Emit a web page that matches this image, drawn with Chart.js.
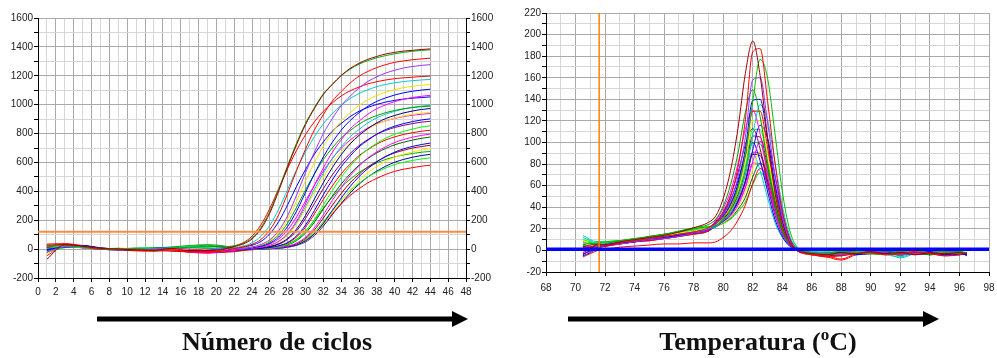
<!DOCTYPE html>
<html>
<head>
<meta charset="utf-8">
<script src="https://cdn.jsdelivr.net/npm/chart.js@4.4.1/dist/chart.umd.min.js"></script>
<style>
  html, body { margin: 0; padding: 0; background: #fff; }
  #wrap { position: relative; width: 997px; height: 358px; overflow: hidden; background: #fff; }
  #ampCanvas { position: absolute; left: 0; top: 0; }
  #meltCanvas { position: absolute; left: 497px; top: 0; }
  #captions { position: absolute; left: 0; top: 0; pointer-events: none; }
</style>
</head>
<body>
<div id="wrap">
  <canvas id="ampCanvas" width="497" height="300"></canvas>
  <canvas id="meltCanvas" width="500" height="300"></canvas>
  <svg id="captions" width="997" height="358" xmlns="http://www.w3.org/2000/svg">
    <line x1="97" y1="319" x2="454" y2="319" stroke="#000" stroke-width="5"/>
    <polygon points="452,311 468,319 452,327" fill="#000"/>
    <text x="277" y="350" text-anchor="middle" font-family="'Liberation Serif','Times New Roman',serif" font-weight="bold" font-size="26" fill="#111">Número de ciclos</text>
    <line x1="568" y1="319" x2="925" y2="319" stroke="#000" stroke-width="5"/>
    <polygon points="923,311 939,319 923,327" fill="#000"/>
    <text x="758" y="350" text-anchor="middle" font-family="'Liberation Serif','Times New Roman',serif" font-weight="bold" font-size="26" fill="#111">Temperatura (<tspan font-size="17" dy="-10">o</tspan><tspan dy="10">C)</tspan></text>
  </svg>
</div>
<script>
// ---------- Left panel: amplification curves ----------
const cycles = [1,3,5,7,9,11,13,15,17,19,20,21,22,23,24,25,26,27,28,29,30,31,32,33,34,35,36,37,38,39,40,41,42,43,44];
const ampThreshold = 120;
const ampXTicks = [0,2,4,6,8,10,12,14,16,18,20,22,24,26,28,30,32,34,36,38,40,42,44,46,48];
const ampYTicks = [-200,0,200,400,600,800,1000,1200,1400,1600];

const amp01 = [-70,30,20,5,0,-5,-8,5,-12,-10, -8,2,17,35,70,139,250,403,570,723,862,973,1070,1140,1202,1251,1286,1314,1334,1351,1362,1371,1376,1382,1386];
const amp02 = [20,25,15,2,-3,5,-10,8,12,20, 15,18,22,40,78,150,262,415,580,735,870,980,1075,1140,1200,1245,1280,1305,1325,1340,1352,1362,1370,1375,1380];
const amp03 = [10,35,20,3,-2,-6,-12,-5,-20,-15, -18,-10,3,16,33,67,133,239,386,545,692,825,931,1024,1091,1150,1197,1230,1257,1277,1293,1303,1311,1317,1322];
const amp04 = [-20,15,18,0,-5,2,-3,6,0,-8, -5,0,3,6,15,32,65,129,232,374,529,671,800,903,993,1058,1116,1161,1193,1219,1238,1254,1264,1272,1277];
const amp05 = [25,30,15,-2,3,-10,0,-6,-15,-20, -16,4,22,44,90,168,282,420,558,684,792,882,954,1012,1060,1096,1122,1144,1159,1171,1180,1186,1190,1195,1198];
const amp06 = [5,20,10,4,0,8,5,10,15,8, 5,6,10,21,44,89,165,277,413,549,673,779,867,938,995,1042,1077,1103,1125,1140,1152,1160,1166,1171,1175];
const amp07 = [15,22,12,0,5,-4,2,-8,5,-5, -10,-4,2,6,14,29,58,115,207,334,472,598,713,805,886,943,995,1035,1063,1087,1104,1118,1127,1134,1139];
const amp08 = [-10,20,25,8,0,-5,5,10,3,0, 5,8,3,4,10,20,41,84,157,263,392,521,638,739,823,890,944,989,1023,1047,1067,1082,1093,1101,1107];
const amp09 = [20,28,18,5,-3,0,-10,-5,-18,-25, -22,-15,-8,2,5,13,27,54,108,194,313,443,562,670,756,832,886,934,972,999,1021,1037,1050,1058,1065];
const amp10 = [30,18,10,2,5,0,8,15,25,30, 28,20,12,8,12,25,50,100,180,290,410,520,620,700,770,820,865,900,925,945,960,972,980,986,990];
const amp11 = [0,15,22,6,-2,-8,-3,-12,-8,-15, -12,-8,-5,1,3,8,18,37,74,139,233,347,460,564,653,728,787,835,874,904,925,943,956,967,973];
const amp12 = [-30,25,12,3,0,5,0,-5,-2,-10, -15,-10,-6,2,5,12,24,48,96,173,278,394,499,595,672,739,787,830,864,888,907,922,933,941,947];
const amp13 = [15,30,20,0,-6,3,-6,0,-10,-18, -20,-16,-10,-4,2,5,11,23,46,92,166,267,377,478,570,644,708,754,796,828,851,869,883,894,902];
const amp14 = [8,12,20,5,2,-2,4,8,0,-3, 0,2,4,1,3,8,17,33,68,126,212,315,419,513,594,662,716,759,795,822,842,857,869,879,885];
const amp15 = [-15,10,15,8,0,6,12,5,18,10, 5,0,2,-3,1,3,7,16,33,65,122,204,305,405,496,575,639,692,733,768,795,815,831,845,854];
const amp16 = [35,38,25,10,-5,-12,-15,-6,-22,-28, -25,-22,-18,-10,2,4,10,21,42,84,151,244,344,437,521,588,647,689,727,756,777,794,806,816,823];
const amp17 = [10,18,8,0,-2,-4,6,0,-10,-12, -10,-8,-5,-2,0,2,4,10,21,41,82,148,238,336,426,508,574,631,673,709,738,759,775,787,797];
const amp18 = [12,20,14,4,2,-6,-8,2,8,15, 20,18,8,2,1,3,7,14,29,59,111,186,277,367,450,521,581,628,666,697,722,740,755,767,776];
const amp19 = [-5,22,15,0,-4,0,-2,-8,-4,-6, -8,-5,-3,0,0,1,3,6,14,28,57,106,179,266,353,433,502,558,604,642,671,694,711,724,734];
const amp20 = [25,28,15,5,0,2,-2,4,-6,-3, -5,-2,0,2,0,1,4,9,19,37,74,133,215,303,385,459,518,570,607,640,666,684,700,710,719];
const amp21 = [18,15,10,6,4,8,2,12,4,6, 2,0,-3,-2,0,1,3,6,13,27,54,101,169,252,335,410,475,529,572,608,636,657,673,686,695];
const amp22 = [-25,12,18,3,0,-8,-4,10,15,28, 18,10,5,2,1,3,8,17,35,69,124,200,283,359,428,483,531,566,597,621,638,652,662,671,676];
const amp23 = [5,25,16,2,6,0,-5,3,-3,-12, -15,-10,-8,-5,0,1,3,8,16,33,65,117,189,267,338,403,455,501,533,562,585,601,614,624,632];
const amp24 = [-45,20,22,6,-3,-6,-10,-14,-20,-25, -22,-18,-14,-9,-5,1,3,7,15,30,60,107,173,245,311,371,418,459,490,517,538,553,564,574,581];
const amp25 = [10,28,12,5,0,4,0,6,2,-2, 0,2,0,2,5,12,25,51,101,182,293,414,525,626,707,778,828,874,909,934,954,970,982,990,996];
const amp26 = [22,32,20,4,2,-3,0,-4,-8,-12, -10,2,5,13,27,53,106,191,307,435,551,657,742,816,869,917,954,981,1002,1018,1030,1039,1045,1049,1054];
const amp27 = [0,16,24,8,3,6,8,2,10,5, 3,0,1,3,8,17,36,71,133,223,333,442,541,627,698,755,801,839,868,888,905,918,927,934,939];
const amp28 = [18,26,10,0,-4,-2,-6,-2,-12,-16, -14,-10,-7,-4,-2,1,3,6,13,26,50,95,160,238,316,388,449,500,540,574,601,621,636,648,656];

const ampSeries = [amp01,amp02,amp03,amp04,amp05,amp06,amp07,amp08,amp09,amp10,amp11,amp12,amp13,amp14,
                   amp15,amp16,amp17,amp18,amp19,amp20,amp21,amp22,amp23,amp24,amp25,amp26,amp27,amp28];
const ampColors = ['#a00000','#00b000','#ff0000','#9933ff','#ff0000','#00cccc','#f0e000','#0000ff','#ff00ff','#00a000',
                   '#000080','#ffe600','#0000ff','#800080','#00ff00','#ff0000','#ff00ff','#006400','#0000ff','#a00000',
                   '#ffe600','#00b000','#00ff00','#ff0000','#00cccc','#0000ff','#ff00ff','#0000a0'];

// ---------- Right panel: melt curves ----------
const temps = [70.5,71,71.5,72,73,74,75,76,77,78,79,79.5,80,80.5,81,81.5,82,82.5,83,83.5,84,84.5,85,85.5,86,87,88,89,90,91,92,93,94,95,96,96.5];
const meltMarkerTemp = 71.6;
const meltBaseline = 1;
const meltXTicks = [68,70,72,74,76,78,80,82,84,86,88,90,92,94,96,98];
const meltYTicks = [-20,0,20,40,60,80,100,120,140,160,180,200,220];

const melt01 = [4,2,6,5,8,10,12,14,17,21,26, 32,48,74,113,164,194,162,105,54,23,7,0, -2,-3,-4,-2,-3,-1,-3,-2,-4,-2,-3,-2,-3];
const melt02 = [0,3,5,4,7,9,11,13,15,17,21, 26,35,50,77,121,184,187,139,82,37,11,0, -3,-4,-6,-5,-3,-2,-4,-3,-2,-3,-5,-4,-2];
const melt03 = [8,6,7,8,9,11,12,15,17,20,22, 23,30,39,58,89,138,177,160,109,55,19,3, -1,-2,-3,-1,-2,-3,-4,-1,0,-2,-1,-3,-2];
const melt04 = [3,4,2,5,6,8,10,11,13,16,19, 25,33,46,68,105,158,160,119,70,32,9,0, -2,-3,-2,-4,-3,-1,-2,-4,-3,-2,-1,-2,-3];
const melt05 = [5,7,4,6,9,10,13,15,18,21,24, 29,41,61,90,128,149,124,81,42,18,6,0, -1,-2,-4,-3,-2,-2,-1,-3,-2,-4,-2,-1,-3];
const melt06 = [-4,0,3,5,7,8,10,12,14,16,19, 25,32,43,62,94,139,140,104,62,28,8,0, -2,-3,-3,-2,-4,-3,-2,-2,-3,-1,-4,-3,-4];
const melt07 = [12,9,6,7,8,9,11,12,15,17,20, 22,28,35,49,72,107,135,121,82,42,14,2, -1,-1,-2,-3,-2,-1,-2,-7,-3,-2,-1,-3,-2];
const melt08 = [-3,-1,2,4,6,8,9,11,13,15,18, 25,31,42,59,88,129,129,96,57,26,8,0, -2,-4,-5,-8,-3,-2,-3,-2,-1,-3,-4,-2,-3];
const melt09 = [2,4,3,6,7,9,12,13,14,17,20, 28,39,55,80,112,130,108,70,37,16,5,0, -1,-2,-3,-3,2,-1,-2,-3,-2,-1,1,-2,-3];
const melt10 = [6,5,4,7,8,10,11,13,16,18,21, 24,30,40,56,82,120,120,89,53,24,7,0, -3,-4,-4,-3,-2,-3,-2,-3,-1,-2,-2,-3,-2];
const melt11 = [1,3,4,5,7,9,10,12,14,16,19, 22,27,33,45,64,93,116,104,70,36,12,2, -1,-2,-3,-2,-3,-2,-1,-2,-3,-3,-2,-4,-3];
const melt12 = [10,8,6,8,9,10,12,14,16,19,22, 24,30,39,54,77,112,112,83,50,23,7,0, -2,-2,-1,-3,-2,-1,-2,-2,1,-1,-2,-1,-2];
const melt13 = [-2,1,4,6,7,9,10,12,15,18,21, 27,36,51,72,98,113,94,61,33,15,5,0, -2,-3,-4,-3,-2,-1,-3,-4,-2,-3,-2,-1,-3];
const melt14 = [3,5,6,5,7,9,11,12,14,16,19, 24,29,38,52,74,106,105,78,47,22,7,0, -2,-3,-5,-4,-3,-2,-3,-2,-2,-4,-3,-3,-4];
const melt15 = [7,4,5,6,8,10,11,13,15,18,20, 22,27,32,42,58,82,101,90,61,32,11,2, -1,-2,-3,-4,1,-2,-3,-2,-3,-2,0,-2,-3];
const melt16 = [4,6,8,7,9,11,13,15,17,20,22, 24,29,37,50,70,100,99,74,44,20,6,0, -1,-3,-2,-1,-2,-3,-2,-5,-1,-2,0,-2,-3];
const melt17 = [-5,-2,2,4,6,8,10,12,14,17,21, 26,34,47,65,88,100,83,55,29,13,4,0, -3,-4,-4,-3,-4,-2,-3,-4,-3,-3,-4,-2,-4];
const melt18 = [9,7,5,6,8,9,11,12,14,16,19, 22,26,31,40,54,75,92,82,55,29,10,2, -2,-3,-3,-2,-4,-3,-2,-3,-2,-1,-3,-3,-2];
const melt19 = [2,0,3,5,6,8,9,11,13,15,18, 23,28,35,47,65,91,90,67,40,19,6,0, -2,-4,-3,-5,-2,-3,-4,-1,-3,-3,-5,-4,-3];
const melt20 = [0,2,4,5,7,8,10,11,13,16,18, 23,28,35,46,63,89,88,65,39,18,6,0, -2,-3,-3,-4,-3,-2,-3,-3,-2,-4,-3,-2,-5];
const melt21 = [14,10,8,8,9,10,12,14,16,19,22, 25,33,44,60,79,90,74,49,26,12,4,0, -1,-2,-2,-1,-3,-2,-4,-6,-2,-1,-2,-3,-2];
const melt22 = [5,6,5,6,8,9,11,13,15,17,20, 22,26,30,38,49,68,81,72,49,25,9,1, -1,-2,-3,-2,-3,-2,-2,-3,-1,-2,-3,-2,-3];
const melt23 = [1,3,5,4,6,8,10,12,13,16,19, 23,28,34,44,59,81,80,60,36,17,5,0, -3,-3,-4,-3,0,-2,-3,-2,-3,-2,-1,-3,-4];
const melt24 = [-6,-3,0,1,3,4,5,6,6,7,7, 8,12,18,28,42,62,76,66,44,22,7,0, -2,-4,-6,-9,-4,-3,-2,-3,-4,-3,-2,-4,-3];
const melt25 = [6,4,5,7,8,10,12,13,15,17,20, 22,25,29,36,45,61,72,63,43,22,8,1, -1,-2,-3,-2,-1,-3,-2,-1,0,-2,-1,-2,-3];

const meltSeries = [melt01,melt02,melt03,melt04,melt05,melt06,melt07,melt08,melt09,melt10,melt11,melt12,melt13,
                    melt14,melt15,melt16,melt17,melt18,melt19,melt20,melt21,melt22,melt23,melt24,melt25];
const meltColors = ['#a00000','#ff0000','#00c000','#9933ff','#00a000','#0000ff','#00cccc','#ff0000','#ff00ff','#ffe600',
                    '#0000ff','#00ff00','#800080','#a00000','#ff00ff','#00b000','#0000ff','#ffe600','#ff0000','#000080',
                    '#00cccc','#006400','#ff00ff','#ff0000','#00d000'];

// ---------- common settings ----------
Chart.defaults.font.family = '"Liberation Sans", Arial, sans-serif';
Chart.defaults.font.size = 10;
Chart.defaults.color = '#222';

const GRID_DARK = '#a9a9a9';
const GRID_LIGHT = '#d6d6d6';

function fixSize(w, h) {
  return function (s) {
    if (w !== null) s.width = w;
    if (h !== null) s.height = h;
    s.paddingLeft = 0; s.paddingRight = 0; s.paddingTop = 0; s.paddingBottom = 0;
  };
}
function toPoints(xs, ys) { return ys.map((v, i) => ({ x: xs[i], y: v })); }

// ---------- amplification chart ----------
const ampDatasets = [{
  data: [{ x: 0, y: ampThreshold }, { x: 48, y: ampThreshold }],
  borderColor: '#ff8a3d', borderWidth: 2, pointRadius: 0, fill: false
}];
ampSeries.forEach((s, i) => ampDatasets.push({
  data: toPoints(cycles, s), borderColor: ampColors[i], borderWidth: 1,
  pointRadius: 0, fill: false, cubicInterpolationMode: 'monotone'
}));

new Chart(document.getElementById('ampCanvas'), {
  type: 'line',
  data: { datasets: ampDatasets },
  options: {
    responsive: false, animation: false, devicePixelRatio: 1,
    layout: { padding: { top: 18, left: 0, right: 0, bottom: 0 } },
    plugins: { legend: { display: false }, tooltip: { enabled: false } },
    scales: {
      x: {
        type: 'linear', min: 0, max: 48,
        ticks: { stepSize: 1, autoSkip: false, maxRotation: 0, padding: 4,
                 callback: v => ampXTicks.includes(v) ? String(v) : '' },
        grid: { color: c => (c.tick && c.tick.value % 2 === 0) ? GRID_DARK : GRID_LIGHT,
                tickLength: 4, tickColor: c => (c.tick && c.tick.value % 2 === 0) ? '#000' : 'rgba(0,0,0,0)' },
        border: { color: '#000', width: 1 },
        afterFit: fixSize(null, 22)
      },
      y: {
        type: 'linear', position: 'left', min: -200, max: 1600,
        ticks: { stepSize: 100, autoSkip: false, padding: 1,
                 callback: v => ampYTicks.includes(v) ? String(v) : '' },
        grid: { color: c => (c.tick && c.tick.value % 200 === 0) ? GRID_DARK : GRID_LIGHT,
                tickLength: 4, tickColor: '#000' },
        border: { color: '#000', width: 1 },
        afterFit: fixSize(38, null)
      },
      y2: {
        type: 'linear', position: 'right', min: -200, max: 1600,
        ticks: { stepSize: 100, autoSkip: false, padding: 1,
                 callback: v => ampYTicks.includes(v) ? String(v) : '' },
        grid: { drawOnChartArea: false, tickLength: 4, tickColor: '#000' },
        border: { color: '#000', width: 1 },
        afterFit: fixSize(31, null)
      }
    }
  }
});

// ---------- melt chart ----------
const meltDatasets = [
  { data: [{ x: 68, y: meltBaseline }, { x: 98, y: meltBaseline }],
    borderColor: '#0000ff', borderWidth: 3.5, pointRadius: 0, fill: false },
  { data: [{ x: meltMarkerTemp, y: -20 }, { x: meltMarkerTemp, y: 220 }],
    borderColor: '#ff8000', borderWidth: 1.5, pointRadius: 0, fill: false }
];
meltSeries.forEach((s, i) => meltDatasets.push({
  data: toPoints(temps, s), borderColor: meltColors[i], borderWidth: 1,
  pointRadius: 0, fill: false, cubicInterpolationMode: 'monotone'
}));

new Chart(document.getElementById('meltCanvas'), {
  type: 'line',
  data: { datasets: meltDatasets },
  options: {
    responsive: false, animation: false, devicePixelRatio: 1,
    layout: { padding: { top: 13, left: 0, right: 8, bottom: 0 } },
    plugins: { legend: { display: false }, tooltip: { enabled: false } },
    scales: {
      x: {
        type: 'linear', min: 68, max: 98,
        ticks: { stepSize: 1, autoSkip: false, maxRotation: 0, padding: 6,
                 callback: v => meltXTicks.includes(v) ? String(v) : '' },
        grid: { color: c => (c.tick && c.tick.value % 2 === 0) ? GRID_DARK : GRID_LIGHT,
                tickLength: 4, tickColor: c => (c.tick && c.tick.value % 2 === 0) ? '#000' : 'rgba(0,0,0,0)' },
        border: { color: '#000', width: 1 },
        afterFit: fixSize(null, 28)
      },
      y: {
        type: 'linear', position: 'left', min: -20, max: 220,
        ticks: { stepSize: 10, autoSkip: false, padding: 1,
                 callback: v => meltYTicks.includes(v) ? String(v) : '' },
        grid: { color: c => (c.tick && c.tick.value % 20 === 0) ? GRID_DARK : GRID_LIGHT,
                tickLength: 4, tickColor: '#000' },
        border: { color: '#000', width: 1 },
        afterFit: fixSize(49, null)
      }
    }
  }
});
</script>
</body>
</html>
